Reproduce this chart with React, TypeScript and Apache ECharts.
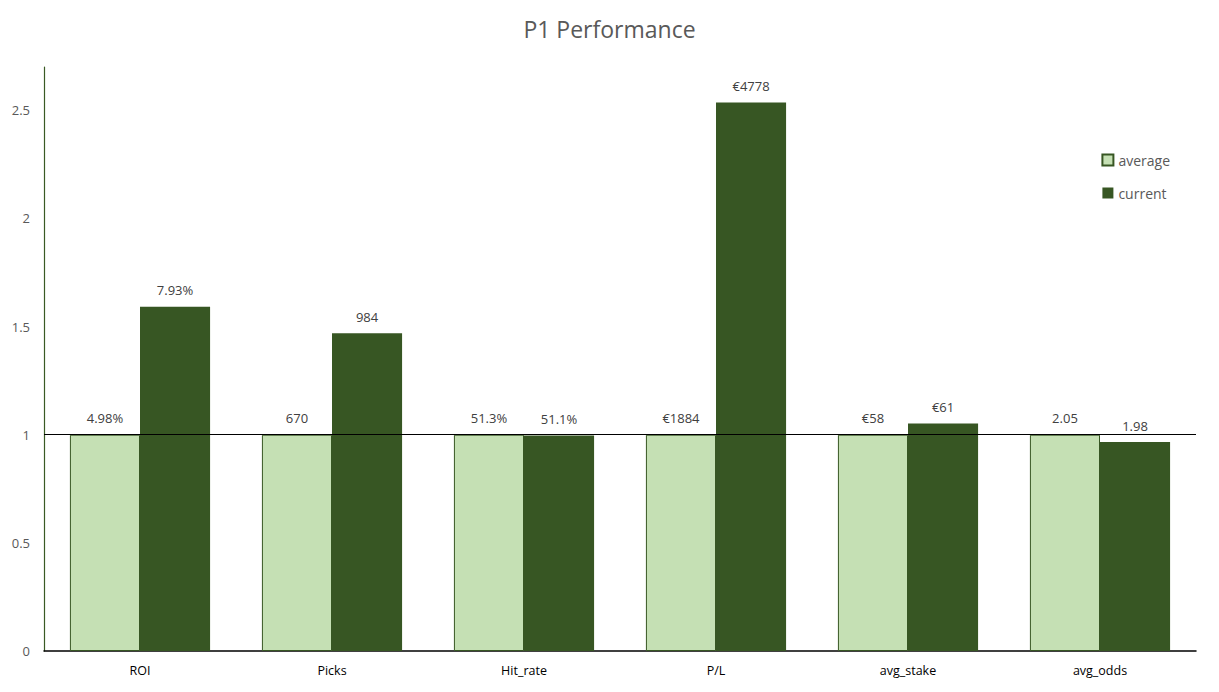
import React, { useEffect, useRef } from "react";
import * as echarts from "echarts";

const categories = ["ROI", "Picks", "Hit_rate", "P/L", "avg_stake", "avg_odds"];
const averageValues = [1, 1, 1, 1, 1, 1];
const currentValues = [1.592, 1.469, 0.996, 2.536, 1.052, 0.966];
const averageLabels = ["4.98%", "670", "51.3%", "€1884", "€58", "2.05"];
const currentLabels = ["7.93%", "984", "51.1%", "€4778", "€61", "1.98"];

const FONT = "'Open Sans', 'Noto Sans', sans-serif";

export default function App() {
  const ref = useRef<HTMLDivElement>(null);
  useEffect(() => {
    if (!ref.current) return;
    const chart = echarts.init(ref.current, undefined, { renderer: "svg" });
    chart.setOption({
      animation: false,
      backgroundColor: "#ffffff",
      textStyle: { fontFamily: FONT },
      title: {
        text: "P1 Performance",
        left: "center",
        top: 12,
        textStyle: { fontSize: 23, fontWeight: "normal", color: "#595959", fontFamily: FONT },
      },
      legend: {
        orient: "vertical",
        right: 44,
        top: 148,
        itemWidth: 11,
        itemHeight: 11,
        itemGap: 19,
        icon: "rect",
        textStyle: { fontSize: 14, color: "#595959", fontFamily: FONT },
        data: ["average", "current"],
      },
      grid: { left: 44, right: 23, top: 67, bottom: 41 },
      xAxis: {
        type: "category",
        data: categories,
        axisLine: { lineStyle: { color: "#000000", width: 1.5 } },
        axisTick: { show: false },
        axisLabel: { fontSize: 12.5, color: "#000000", margin: 13, fontFamily: FONT },
      },
      yAxis: {
        type: "value",
        min: 0,
        max: 2.7,
        interval: 0.5,
        splitLine: { show: false },
        axisLine: { show: true, lineStyle: { color: "#3a5a24", width: 1.2 } },
        axisTick: { show: false },
        axisLabel: { fontSize: 13, color: "#595959", margin: 14, showMaxLabel: false, fontFamily: FONT },
      },
      series: [
        {
          name: "average",
          type: "bar",
          data: averageValues,
          barGap: "0%",
          barCategoryGap: "27%",
          itemStyle: { color: "#C5E0B4", borderColor: "#375623", borderWidth: 1 },
          label: {
            show: true,
            position: "top",
            distance: 10,
            fontSize: 13,
            color: "#404040",
            fontFamily: FONT,
            formatter: (p: any) => averageLabels[p.dataIndex],
          },
          markLine: {
            symbol: "none",
            silent: true,
            label: { show: false },
            lineStyle: { color: "#000000", width: 1.2, type: "solid" },
            data: [{ yAxis: 1 }],
            z: 10,
          },
        },
        {
          name: "current",
          type: "bar",
          data: currentValues,
          barGap: "0%",
          barCategoryGap: "27%",
          itemStyle: { color: "#375623" },
          label: {
            show: true,
            position: "top",
            distance: 10,
            fontSize: 13,
            color: "#404040",
            fontFamily: FONT,
            formatter: (p: any) => currentLabels[p.dataIndex],
          },
        },
      ],
    });
    return () => chart.dispose();
  }, []);
  return <div ref={ref} style={{ width: 1219, height: 692, position: "fixed", left: 0, top: 0 }} />;
}
